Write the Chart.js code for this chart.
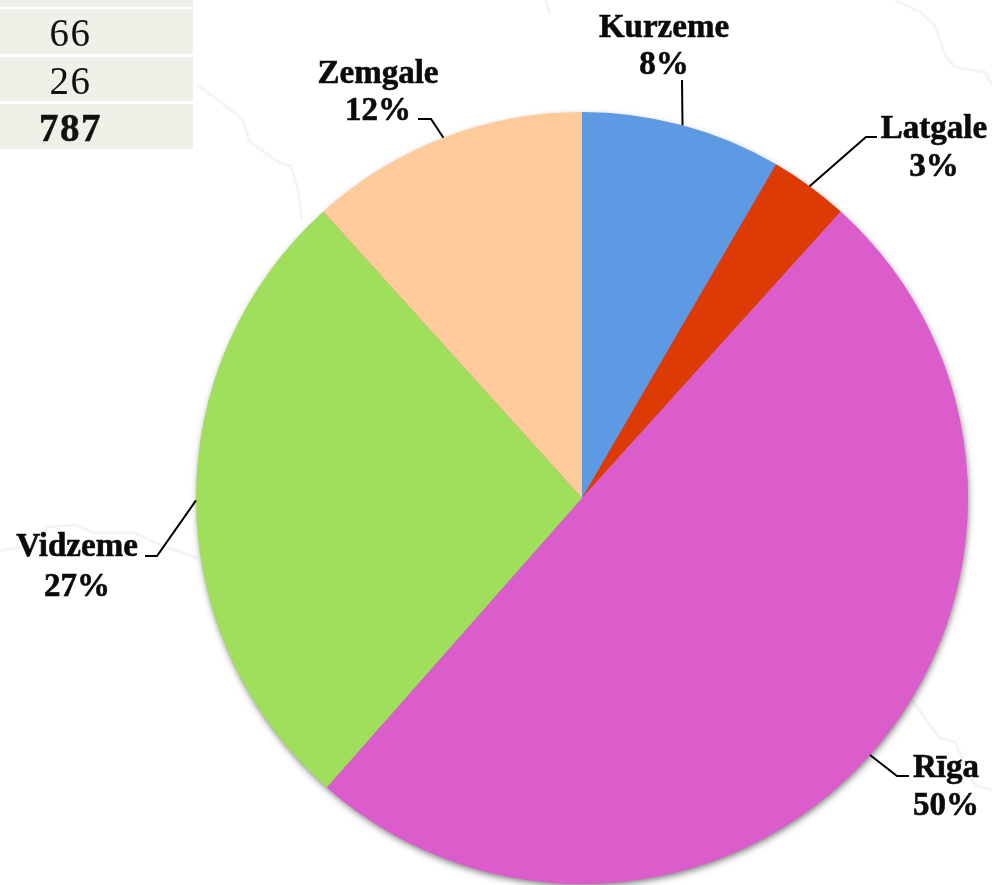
<!DOCTYPE html>
<html>
<head>
<meta charset="utf-8">
<title>Regions pie</title>
<script src="https://cdn.jsdelivr.net/npm/chart.js@4/dist/chart.umd.min.js"></script>
<style>
html,body{margin:0;padding:0;background:#fff;overflow:hidden}
#wrap{position:relative;width:992px;height:885px;overflow:hidden}
#bg{position:absolute;left:0;top:0}
canvas{position:absolute;left:0;top:0}
.cell{position:absolute;left:0;width:193px;background:#eff1e9;color:#111;text-align:center;
 font-family:"Liberation Serif",serif;font-size:39px;letter-spacing:1.5px;box-sizing:border-box;padding-right:52px;padding-top:3px}
.bold{font-weight:bold;-webkit-text-stroke:0.5px #111}
</style>
</head>
<body>
<div id="wrap">
<svg id="bg" width="992" height="885" fill="none" stroke="#f4f4f4" stroke-width="3">
<polyline points="197,85 225,105 243,120 250,142 280,163 291,166 298,190 302,220"/>
<polyline points="0,551 30,545 48,527 75,525 95,533 135,533 160,545 198,558"/>
<polyline points="895,0 920,12 935,25 945,55 955,67 985,72 992,85"/>
<polyline points="912,700 930,725 940,738 955,742 965,765 975,785 992,790"/>
<polyline points="546,0 550,14"/>
</svg>
<canvas id="c" width="992" height="885"></canvas>
<div id="cells"></div>
</div>
<script>
const categories = ["Kurzeme","Latgale","Rīga","Vidzeme","Zemgale"];
const values = [66,26,392,211,92];
const percentLabels = ["8%","3%","50%","27%","12%"];
const sliceColors = ["#5e9ae4","#dc3b06","#db5ccb","#a0df5c","#ffcb9b"];
const tableRows = ["","66","26","787"];

// table fragment in the top-left corner
const rowBoxes = [[-40,47],[9,45],[57,44],[104,45]];
const cellsEl = document.getElementById("cells");
tableRows.forEach((t,i)=>{
  const d = document.createElement("div");
  d.className = "cell";
  d.textContent = t;
  d.style.top = rowBoxes[i][0]+"px";
  d.style.height = rowBoxes[i][1]+"px";
  d.style.lineHeight = (rowBoxes[i][1]-3)+"px";
  if(i===3){d.classList.add("bold");}
  cellsEl.appendChild(d);
});

// label placement: text centre x, two baselines, elbow and tail of leader
const labelLayout = [
  {x:664,y:37,y2:74,pts:[[682,80]]},
  {x:934,y:138,y2:176,pts:[[866,137],[877,137]]},
  {x:946,y:777,y2:815,pts:[[897,776],[909,776]]},
  {x:77,y:556,y2:596,pts:[[157,556],[145,556]]},
  {x:378,y:83,y2:120,pts:[[431,119],[418,119]]}
];

const pieShadow = {
  id:"pieShadow",
  beforeDatasetsDraw(chart){
    const a = chart.getDatasetMeta(0).data[0];
    const ctx = chart.ctx;
    ctx.save();
    ctx.shadowColor = "rgba(0,0,0,0.55)";
    ctx.shadowBlur = 7;
    ctx.shadowOffsetX = 1;
    ctx.shadowOffsetY = 3;
    ctx.fillStyle = "#b06aa0";
    ctx.beginPath();
    ctx.arc(a.x,a.y,a.outerRadius-1,0,Math.PI*2);
    ctx.fill();
    ctx.restore();
  }
};

const sliceLabels = {
  id:"sliceLabels",
  afterDatasetsDraw(chart){
    const ctx = chart.ctx;
    const arcs = chart.getDatasetMeta(0).data;
    ctx.save();
    arcs.forEach((a,i)=>{
      const mid = (a.startAngle+a.endAngle)/2;
      const sx = a.x+Math.cos(mid)*a.outerRadius;
      const sy = a.y+Math.sin(mid)*a.outerRadius;
      const L = labelLayout[i];
      ctx.strokeStyle="#000";
      ctx.lineWidth=2;
      ctx.beginPath();
      ctx.moveTo(sx,sy);
      L.pts.forEach(p=>ctx.lineTo(p[0],p[1]));
      ctx.stroke();
      ctx.fillStyle="#0b0b0b";
      ctx.strokeStyle="#0b0b0b";
      ctx.lineWidth=0.6;
      ctx.font='bold 33px "Liberation Serif", serif';
      ctx.textAlign="center";
      ctx.textBaseline="alphabetic";
      [[categories[i],L.y],[percentLabels[i],L.y2]].forEach(([t,y])=>{
        ctx.fillText(t,L.x,y);
        ctx.strokeText(t,L.x,y);
      });
    });
    ctx.restore();
  }
};

new Chart(document.getElementById("c"),{
  type:"pie",
  data:{labels:categories,datasets:[{data:values,backgroundColor:sliceColors,borderWidth:0}]},
  options:{
    responsive:false,
    animation:false,
    layout:{padding:{left:196,right:24,top:112,bottom:1}},
    plugins:{legend:{display:false},tooltip:{enabled:false}}
  },
  plugins:[pieShadow,sliceLabels]
});
</script>
</body>
</html>
